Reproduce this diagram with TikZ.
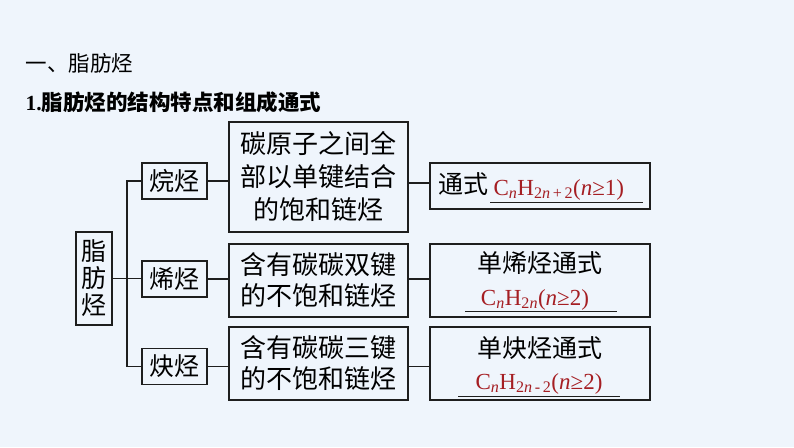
\documentclass[tikz,border=0pt]{standalone}
\usepackage{fontspec}
\setmainfont{Liberation Serif}
\newfontfamily\cjk{Noto Sans CJK SC}
\definecolor{bgc}{RGB}{239,245,252}
\definecolor{fred}{RGB}{165,30,35}
\definecolor{lnc}{RGB}{30,30,30}
\newcommand{\fsub}[1]{\textsubscript{#1}}
\begin{document}
\begin{tikzpicture}[x=1pt,y=-1pt,
  box/.style={draw=lnc,line width=1.2pt,inner sep=0pt,anchor=center},
  conn/.style={draw=lnc,line width=1.2pt},
  cjkt/.style={font=\cjk\fontsize{25}{30}\selectfont},
  form/.style={font=\fontsize{23}{26}\selectfont,text=fred}]
\fill[bgc] (0,0) rectangle (794,447);
\useasboundingbox (0,0) rectangle (794,447);
% headings
\node[anchor=west,font=\cjk\fontsize{21.5}{24}\selectfont] (h1) at (22,63) {一、脂肪烃};
\node[anchor=west,font=\fontsize{21.5}{24}\selectfont\bfseries] (h2) at (22,102) {1.{\cjk 脂肪烃的结构特点和组成通式}};
% root
\node[box,minimum width=36pt,minimum height=93pt,align=center,font=\cjk\fontsize{25}{27}\selectfont] (root) at (94,278.5) {脂\\肪\\烃};
% level 2
\node[box,minimum width=65pt,minimum height=36pt,cjkt] (n1) at (174.5,181) {烷烃};
\node[box,minimum width=65pt,minimum height=36pt,cjkt] (n2) at (174.5,279) {烯烃};
\node[box,minimum width=65pt,minimum height=36pt,cjkt] (n3) at (174.5,366.5) {炔烃};
% descriptions
\node[box,minimum width=179pt,minimum height=110pt,align=center,font=\cjk\fontsize{26}{33}\selectfont] (d1) at (318.5,177) {碳原子之间全\\部以单键结合\\的饱和链烃};
\node[box,minimum width=179pt,minimum height=73pt,align=center,font=\cjk\fontsize{26}{31}\selectfont] (d2) at (318.5,280.5) {含有碳碳双键\\的不饱和链烃};
\node[box,minimum width=179pt,minimum height=73pt,align=center,font=\cjk\fontsize{26}{31}\selectfont] (d3) at (318.5,363.5) {含有碳碳三键\\的不饱和链烃};
% formula boxes
\node[box,minimum width=220pt,minimum height=46pt] (f1) at (540,186) {};
\node[box,minimum width=220pt,minimum height=73pt] (f2) at (540,280.5) {};
\node[box,minimum width=220pt,minimum height=73pt] (f3) at (540,363.5) {};
% formula box contents
\node[anchor=west,cjkt] (t1) at (435,184) {通式};
\node[anchor=base west,form] (g1) at (490,195) {C\fsub{\textit{n}}H\fsub{2\textit{n}\,+\,2}(\textit{n}≥1)};
\draw[conn,line width=1pt] (490,202) coordinate (u1a) -- (643,202) coordinate (u1b);
\node[cjkt] (t2) at (540,263) {单烯烃通式};
\node[anchor=base,form] (g2) at (535,305) {C\fsub{\textit{n}}H\fsub{2\textit{n}}(\textit{n}≥2)};
\draw[conn,line width=1pt] (465,311) coordinate (u2a) -- (617,311) coordinate (u2b);
\node[cjkt] (t3) at (540,348) {单炔烃通式};
\node[anchor=base,form] (g3) at (539,389) {C\fsub{\textit{n}}H\fsub{2\textit{n}\,-\,2}(\textit{n}≥2)};
\draw[conn,line width=1pt] (458,396) coordinate (u3a) -- (620,396) coordinate (u3b);
% connectors
\coordinate (j1) at (127,181);
\draw[conn] (n1.west) -- (j1) |- (n3.west);
\draw[conn] (root.east) -- (root.east -| n2.west);
\draw[conn] (n1.east) -- (n1.east -| d1.west);
\draw[conn] (n2.east) -- (n2.east -| d2.west);
\draw[conn] (n3.east) -- (n3.east -| d3.west);
\draw[conn] (d1.east |- 0,183) -- (f1.west |- 0,183);
\draw[conn] (d2.east |- n2.east) -- (f2.west |- n2.east);
\draw[conn] (d3.east |- n3.east) -- (f3.west |- n3.east);
\end{tikzpicture}
\end{document}
